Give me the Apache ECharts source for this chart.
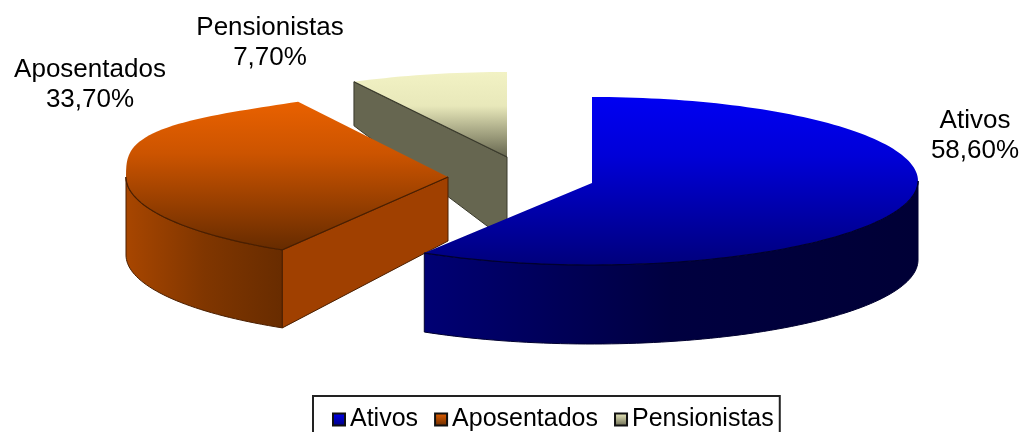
<!DOCTYPE html>
<html>
<head>
<meta charset="utf-8">
<style>html,body{margin:0;padding:0;background:#fff;overflow:hidden}#c{width:1020px;height:432px}</style>
<script src="https://cdn.jsdelivr.net/npm/echarts@6/dist/echarts.min.js"></script>
</head>
<body>
<div id="c"></div>
<script>
const categories = ['Ativos', 'Aposentados', 'Pensionistas'];
const shares = [58.6, 33.7, 7.7];

const geometry = [
  {cx: 592, cy: 181, rx: 326, ry: 84, bump: 0, rimDepth: 79, apexDepth: 79, apexDy: 2, z: 4, label: [975, 136],
   top: ['#0000f2', '#0000d8', '#00007c'], stops: [0, .35, 1], rim: ['#000074', '#000040', '#000036'], wall: '#00006a', edge: '#000030', hasWall: false},
  {cx: 448, cy: 177, rx: 322, ry: 85, bump: 0.05, rimDepth: 78, apexDepth: 64, apexDy: 0, z: 3, label: [90, 85],
   top: ['#e96100', '#cc5400', '#662b00'], stops: [0, .35, 1], rim: ['#a84600', '#803600', '#682c00'], wall: '#a04000', edge: '#4a1f00', hasWall: true},
  {cx: 507, cy: 157, rx: 329, ry: 85, bump: 0, rimDepth: 44, apexDepth: 84, apexDy: 0, z: 2, label: [270, 43],
   top: ['#f2f2c4', '#e8e8ba', '#66664f'], stops: [0, .4, 1], rim: ['#666650', '#666650', '#666650'], wall: '#666650', edge: '#3a3a2c', hasWall: true}
];

function pt(g, deg, dy) {
  const r = deg * Math.PI / 180;
  // the upper-left of the rim is slightly fuller than a true ellipse
  const k = deg > 270 ? 1 + g.bump * Math.pow(Math.sin(3 * (deg - 270) * Math.PI / 180), 2) : 1;
  return [g.cx + k * g.rx * Math.sin(r), g.cy - k * g.ry * Math.cos(r) + (dy || 0)];
}
function arc(g, a, b, dy) {
  const n = Math.max(2, Math.ceil(Math.abs(b - a) / 1.5)), out = [];
  for (let i = 0; i <= n; i++) out.push(pt(g, a + (b - a) * i / n, dy));
  return out;
}
const grad = (horizontal, cols, stops) => new echarts.graphic.LinearGradient(0, 0, horizontal ? 1 : 0, horizontal ? 0 : 1,
  cols.map((c, i) => ({offset: stops ? stops[i] : i / (cols.length - 1), color: c})));

function makeRender(i) {
  return function (params, api) {
    const total = shares.reduce((s, v) => s + v, 0);
    const before = shares.slice(0, i).reduce((s, v) => s + v, 0);
    const g = geometry[i];
    const a0 = before / total * 360, a1 = a0 + api.value(0) / total * 360;
    const apex = [g.cx, g.cy + g.apexDy];
    const kids = [];
    // visible outer rim (front half of the ellipse)
    const f0 = Math.max(a0, 90), f1 = Math.min(a1, 270);
    if (f1 > f0) {
      kids.push({type: 'polygon', shape: {points: arc(g, f0, f1).concat(arc(g, f1, f0, g.rimDepth))},
        style: {fill: grad(true, g.rim), stroke: g.edge, lineWidth: 1}});
    }
    // radial cut face
    if (g.hasWall) {
      const p = pt(g, a0);
      kids.push({type: 'polygon', shape: {points: [apex, p, [p[0], p[1] + g.rimDepth], [apex[0], apex[1] + g.apexDepth]]},
        style: {fill: g.wall, stroke: g.edge, lineWidth: 1}});
    }
    // top face
    kids.push({type: 'polygon', shape: {points: [apex].concat(arc(g, a0, a1))},
      style: {fill: grad(false, g.top, g.stops)}});
    // front edge of top face
    if (f1 > f0) {
      const front = arc(g, f0, f1);
      kids.push({type: 'polyline', shape: {points: g.hasWall ? [apex].concat(front) : front},
        style: {fill: 'none', stroke: g.edge, lineWidth: 1.2}});
    } else {
      kids.push({type: 'polyline', shape: {points: [pt(g, a0), apex]},
        style: {fill: 'none', stroke: g.edge, lineWidth: 1.2}});
    }
    // data label
    kids.push({type: 'text', style: {
      x: g.label[0], y: g.label[1], align: 'center', verticalAlign: 'middle',
      text: categories[i] + '\n' + api.value(0).toFixed(2).replace('.', ',') + '%',
      font: '26px "Liberation Sans"', lineHeight: 30, fill: '#000'}});
    return {type: 'group', children: kids};
  };
}

const chart = echarts.init(document.getElementById('c'));
chart.setOption({
  animation: false,
  legend: {
    left: 313, top: 396, padding: [11, 6, 21, 19], itemGap: 16,
    itemWidth: 12, itemHeight: 12, icon: 'rect',
    borderColor: '#222', borderWidth: 2, backgroundColor: '#fff',
    textStyle: {fontFamily: 'Liberation Sans', fontSize: 25, color: '#000'},
    data: categories
  },
  series: categories.map((name, i) => ({
    type: 'custom', name, coordinateSystem: 'none', z: geometry[i].z, silent: true, clip: false,
    renderItem: makeRender(i),
    itemStyle: {color: grad(false, [geometry[i].top[0], geometry[i].top[2]]), borderColor: '#111', borderWidth: 1},
    data: [shares[i]]
  }))
});
</script>
</body>
</html>
